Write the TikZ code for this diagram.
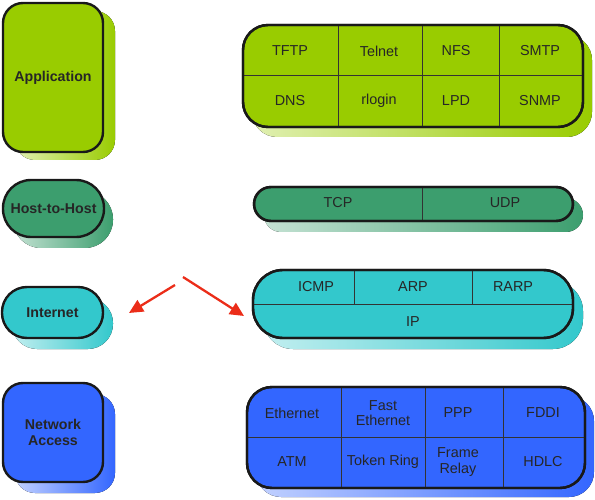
\documentclass[tikz,border=0pt]{standalone}
\usepackage{fontspec}
\setmainfont{Liberation Sans}
\usetikzlibrary{arrows.meta}
\definecolor{appgreen}{RGB}{153,204,0}
\definecolor{hostgreen}{RGB}{60,158,110}
\definecolor{inetcyan}{RGB}{51,200,204}
\definecolor{linkblue}{RGB}{51,102,255}
\definecolor{arrowred}{RGB}{235,45,25}
\begin{document}
\begin{tikzpicture}[x=1pt, y=-1pt,
    layer/.style={draw=black!90, line width=2.4pt, text=black!85, align=center,
      font=\fontsize{14.2}{15.5}\selectfont\bfseries},
    frame/.style={draw=black!90, line width=2.4pt},
    cell/.style={text=black!85, align=center, font=\fontsize{14.4}{15.5}\selectfont},
    divider/.style={draw=black!80, line width=0.9pt},
    redarrow/.style={draw=arrowred, line width=2.3pt, -{Triangle[length=14pt, width=13pt]}}]
    \useasboundingbox (0,0) rectangle (595,500);
% shadows
\fill[left color=appgreen!30, right color=appgreen, rounded corners=20pt] (15,11) rectangle (115,160);
\fill[left color=hostgreen!30, right color=hostgreen, rounded corners=28pt] (13,191) rectangle (113,248);
\fill[left color=inetcyan!30, right color=inetcyan, rounded corners=25pt] (12,298) rectangle (113,349);
\fill[left color=linkblue!30, right color=linkblue, rounded corners=20pt] (15,394) rectangle (115,493);
\fill[left color=appgreen!30, right color=appgreen, rounded corners=25pt] (252,35) rectangle (592,137);
\fill[left color=hostgreen!30, right color=hostgreen, rounded corners=17pt] (264,198) rectangle (583,232);
\fill[left color=inetcyan!30, right color=inetcyan, rounded corners=30pt] (263,281) rectangle (583,349);
\fill[left color=linkblue!30, right color=linkblue, rounded corners=25pt] (256,396) rectangle (594,497);
% layers
\node[layer, fill=appgreen, rounded corners=20pt, minimum width=100pt, minimum height=149pt] (app) at (53,77.5) {Application};
\node[layer, fill=hostgreen, rounded corners=28pt, minimum width=101pt, minimum height=57pt] (host) at (53.5,208.5) {Host-to-Host};
\node[layer, fill=inetcyan, rounded corners=25pt, minimum width=101pt, minimum height=51pt] (inet) at (52.5,312.5) {Internet};
\node[layer, fill=linkblue, rounded corners=20pt, minimum width=100pt, minimum height=99pt] (netacc) at (53,432.5) {Network\\Access};
% application protocols
\draw[frame, fill=appgreen, rounded corners=25pt] (243,25) rectangle (583,127);
\draw[divider] (243,75) -- (583,75);
\draw[divider] (338,25) -- (338,127);
\draw[divider] (422,25) -- (422,127);
\draw[divider] (499,25) -- (499,127);
\draw[frame, rounded corners=25pt] (243,25) rectangle (583,127);
\node[cell] (tftp) at (290,51) {TFTP};
\node[cell] (telnet) at (379,51) {Telnet};
\node[cell] (nfs) at (456,51) {NFS};
\node[cell] (smtp) at (540,51) {SMTP};
\node[cell] (dns) at (290,101) {DNS};
\node[cell] (rlogin) at (379,101) {rlogin};
\node[cell] (lpd) at (456,101) {LPD};
\node[cell] (snmp) at (540,101) {SNMP};
% transport
\draw[frame, fill=hostgreen, rounded corners=17pt] (254,187) rectangle (573,221);
\draw[divider] (422,187) -- (422,221);
\draw[frame, rounded corners=17pt] (254,187) rectangle (573,221);
\node[cell] (tcp) at (338,203) {TCP};
\node[cell] (udp) at (505,203) {UDP};
% internet
\draw[frame, fill=inetcyan, rounded corners=30pt] (253,270) rectangle (573,338);
\draw[divider] (253,304) -- (573,304);
\draw[divider] (354,270) -- (354,304);
\draw[divider] (472,270) -- (472,304);
\draw[frame, rounded corners=30pt] (253,270) rectangle (573,338);
\node[cell] (icmp) at (316,287) {ICMP};
\node[cell] (arp) at (413,287) {ARP};
\node[cell] (rarp) at (513,287) {RARP};
\node[cell] (ip) at (413,322) {IP};
% network access
\draw[frame, fill=linkblue, rounded corners=25pt] (247,387) rectangle (585,488);
\draw[divider] (247,437) -- (585,437);
\draw[divider] (341,387) -- (341,488);
\draw[divider] (425,387) -- (425,488);
\draw[divider] (503,387) -- (503,488);
\draw[frame, rounded corners=25pt] (247,387) rectangle (585,488);
\node[cell] (ether) at (292,413) {Ethernet};
\node[cell] (fastether) at (383,413) {Fast\\Ethernet};
\node[cell] (ppp) at (458,413) {PPP};
\node[cell] (fddi) at (543,413) {FDDI};
\node[cell] (atm) at (292,462) {ATM};
\node[cell] (token) at (383,462) {Token Ring};
\node[cell] (frame) at (458,462) {Frame\\Relay};
\node[cell] (hdlc) at (543,462) {HDLC};
% arrows
\coordinate (leftstart) at (175,285);
\coordinate (lefttip) at (129,313);
\coordinate (rightstart) at (183,277);
\coordinate (righttip) at (244,316);
\draw[redarrow] (leftstart) -- (lefttip);
\draw[redarrow] (rightstart) -- (righttip);
    \end{tikzpicture}
\end{document}
